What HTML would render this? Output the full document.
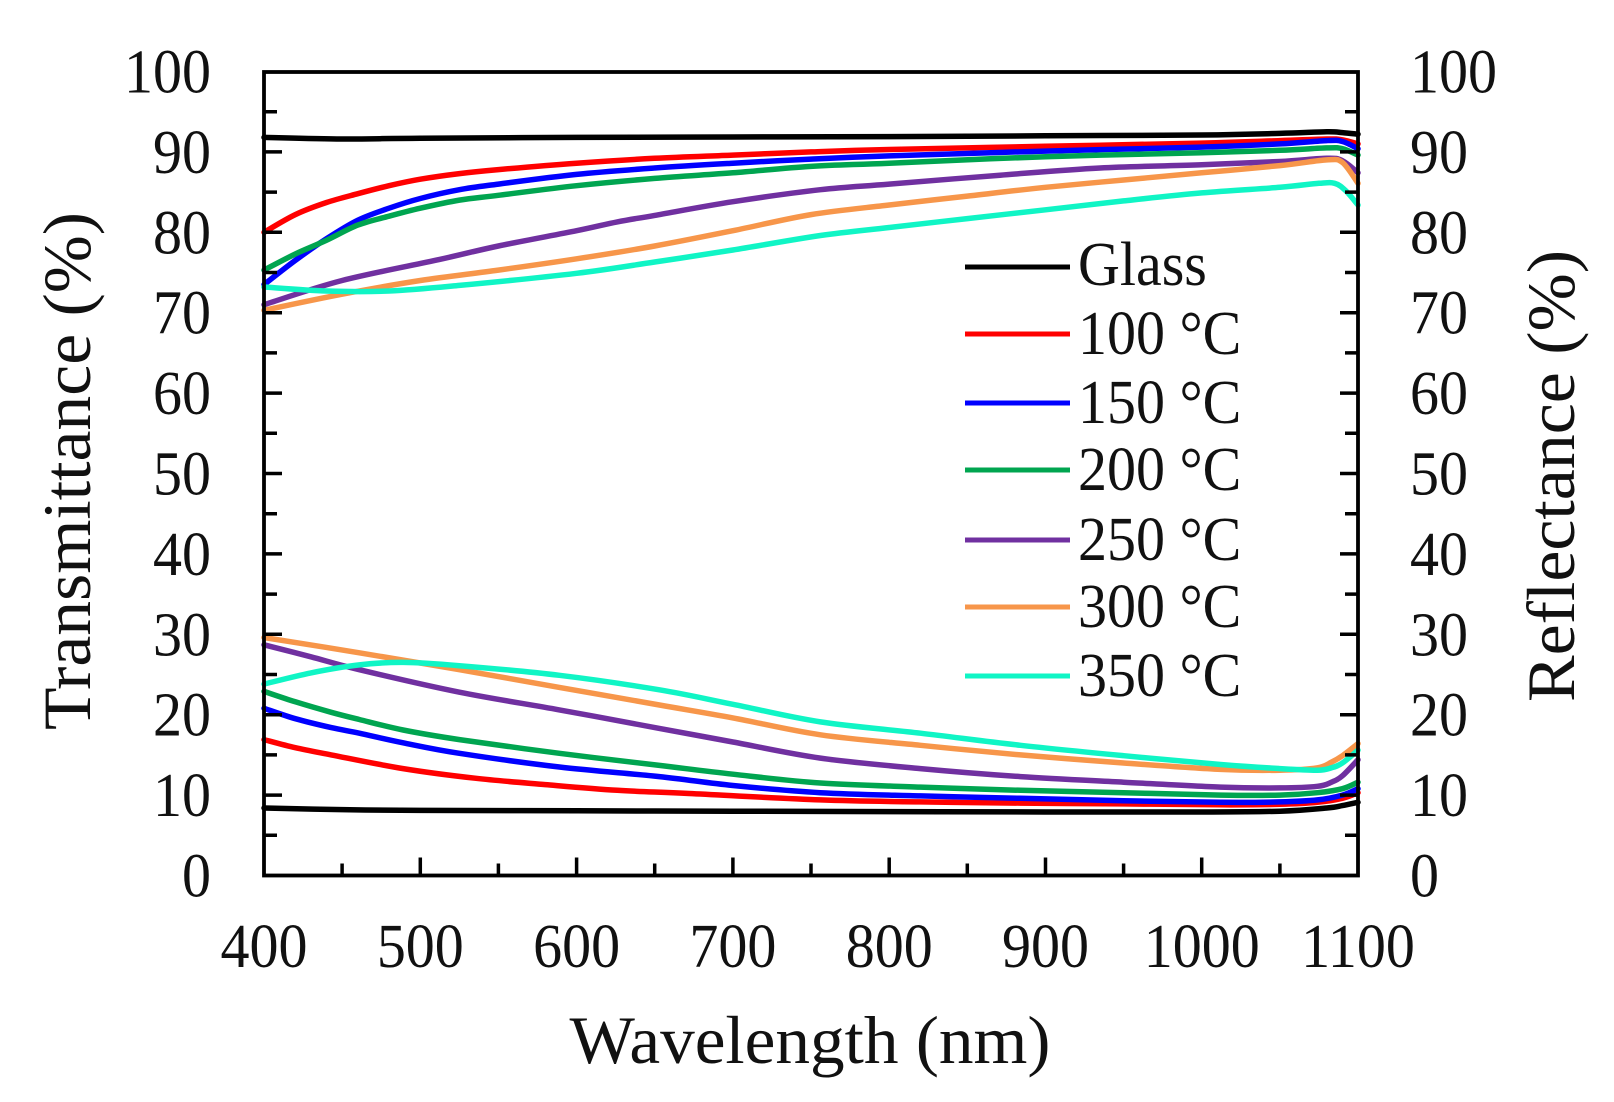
<!DOCTYPE html>
<html><head><meta charset="utf-8"><style>
html,body{margin:0;padding:0;background:#fff;}
svg{display:block;}
text{font-family:"Liberation Serif","Times New Roman",serif;fill:#111;}
</style></head><body>
<svg id="chart" width="1614" height="1102" viewBox="0 0 1614 1102" xmlns="http://www.w3.org/2000/svg">
<rect width="1614" height="1102" fill="#fff"/>
<g id="curves" fill="none" stroke-width="5.5" stroke-linejoin="round" stroke-linecap="round">
<!-- Transmittance -->
<polyline stroke="#000" points="264,137.4 342.1,139.0 420.3,138.2 576.6,137.4 732.9,137.0 889.2,136.6 1045.5,135.8 1201.7,135.0 1279.9,133.4 1326.8,131.8 1342.4,132.6 1358,134.2"/>
<polyline stroke="#ff0000" points="264,232.3 295.3,214.6 326.5,202.5 357.8,193.7 389.0,185.7 420.3,179.2 459.4,173.6 498.4,169.6 576.6,163.2 654.7,158.3 732.9,155.1 811.0,151.9 889.2,149.5 1045.5,146.3 1201.7,143.1 1279.9,140.6 1326.8,139.0 1342.4,139.8 1358,143.9"/>
<polyline stroke="#0000ff" points="264,284.6 295.3,260.4 326.5,238.7 357.8,220.2 389.0,208.2 420.3,198.5 459.4,189.7 498.4,184.1 576.6,174.4 654.7,168.0 732.9,163.2 811.0,159.1 889.2,155.9 1045.5,151.1 1201.7,147.1 1279.9,143.9 1326.8,140.6 1342.4,141.5 1358,148.7"/>
<polyline stroke="#00a550" points="264,270.1 295.3,254.0 326.5,240.3 357.8,225.1 389.0,216.2 420.3,208.2 459.4,200.1 498.4,195.3 576.6,185.7 654.7,178.4 732.9,172.8 811.0,166.4 889.2,163.2 1045.5,156.7 1201.7,152.7 1279.9,150.3 1326.8,147.9 1342.4,148.7 1358,155.1"/>
<polyline stroke="#7030a0" points="264,304.7 342.1,280.5 439.0,259.6 498.4,246.0 576.6,230.7 617.2,221.9 654.7,215.4 732.9,201.7 820.4,189.7 889.2,184.1 1000.1,175.2 1100.1,168.0 1201.7,164.8 1279.9,161.5 1326.8,158.3 1342.4,160.7 1358,172.8"/>
<polyline stroke="#f7964a" points="264,310.3 342.1,294.2 420.3,280.5 498.4,270.1 576.6,258.8 654.7,246.0 732.9,230.7 811.0,214.6 889.2,205.0 967.3,196.1 1045.5,187.3 1123.6,180.0 1201.7,172.8 1279.9,165.6 1326.8,159.9 1342.4,162.4 1358,183.3"/>
<polyline stroke="#10f5c5" points="264,287.0 326.5,291.0 389.0,291.0 459.4,285.4 576.6,273.3 654.7,262.0 732.9,250.0 820.4,235.5 889.2,227.5 967.3,218.6 1045.5,209.8 1123.6,200.9 1201.7,192.9 1279.9,187.3 1319.0,183.3 1334.6,183.3 1345.5,190.5 1358,205.0"/>
<!-- Reflectance -->
<polyline stroke="#000" points="264,808.0 342.1,809.6 420.3,810.4 576.6,810.8 732.9,811.2 889.2,811.6 1045.5,812.0 1201.7,812.0 1279.9,811.2 1326.8,808.0 1342.4,805.6 1358,802.3"/>
<polyline stroke="#ff0000" points="264,739.6 295.3,747.7 331.2,754.9 403.1,768.6 475.0,778.2 545.3,784.6 617.2,790.3 689.1,793.5 820.4,799.9 920.4,801.9 1020.4,803.1 1123.6,803.9 1220.5,804.8 1279.9,804.3 1317.4,802.3 1342.4,798.3 1358,792.7"/>
<polyline stroke="#0000ff" points="264,708.3 295.3,718.7 331.2,727.6 359.3,733.2 403.1,742.8 459.4,753.3 559.4,767.0 659.4,776.6 732.9,785.5 820.4,792.7 920.4,795.9 1020.4,798.3 1123.6,800.7 1220.5,802.3 1279.9,801.9 1317.4,799.9 1342.4,795.1 1358,788.7"/>
<polyline stroke="#00a550" points="264,691.4 295.3,701.8 331.2,712.3 359.3,719.5 403.1,730.0 459.4,739.6 559.4,753.3 659.4,765.4 732.9,774.2 820.4,783.0 920.4,787.1 1020.4,790.3 1123.6,792.7 1220.5,795.1 1279.9,795.1 1317.4,792.7 1342.4,788.7 1358,782.2"/>
<polyline stroke="#7030a0" points="264,644.8 310.9,656.8 359.3,669.7 459.4,692.2 559.4,709.9 659.4,728.4 732.9,742.0 820.4,758.1 920.4,768.6 1020.4,776.6 1123.6,782.2 1220.5,787.1 1279.9,787.9 1317.4,786.3 1331.5,782.2 1342.4,775.8 1358,759.7"/>
<polyline stroke="#f7964a" points="264,637.5 359.3,652.8 459.4,669.7 559.4,687.4 659.4,705.0 732.9,717.9 820.4,734.8 920.4,745.3 1020.4,754.9 1123.6,763.0 1220.5,769.4 1279.9,770.2 1317.4,767.8 1331.5,762.1 1342.4,755.7 1358,743.6"/>
<polyline stroke="#10f5c5" points="264,684.1 310.9,672.9 359.3,664.9 403.1,662.4 459.4,665.7 559.4,675.3 659.4,689.8 732.9,704.3 820.4,721.9 920.4,733.2 1020.4,745.3 1123.6,755.7 1220.5,764.5 1279.9,768.6 1317.4,770.2 1331.5,767.8 1342.4,763.0 1358,750.1"/>
</g>

<!-- frame -->
<rect x="264" y="72" width="1094" height="803.5" fill="none" stroke="#000" stroke-width="3.8"/>

<!-- ticks -->
<g stroke="#000" stroke-width="3.5">
<path d="M264 795.1h18M264 714.7h18M264 634.3h18M264 553.9h18M264 473.5h18M264 393.1h18M264 312.7h18M264 232.3h18M264 151.9h18"/>
<path d="M264 835.3h13M264 754.9h13M264 674.5h13M264 594.1h13M264 513.7h13M264 433.3h13M264 352.9h13M264 272.5h13M264 192.1h13M264 111.7h13"/>
<path d="M1358 795.1h-18M1358 714.7h-18M1358 634.3h-18M1358 553.9h-18M1358 473.5h-18M1358 393.1h-18M1358 312.7h-18M1358 232.3h-18M1358 151.9h-18"/>
<path d="M1358 835.3h-13M1358 754.9h-13M1358 674.5h-13M1358 594.1h-13M1358 513.7h-13M1358 433.3h-13M1358 352.9h-13M1358 272.5h-13M1358 192.1h-13M1358 111.7h-13"/>
<path d="M420.3 875.5v-18M576.6 875.5v-18M732.9 875.5v-18M889.2 875.5v-18M1045.5 875.5v-18M1201.7 875.5v-18"/>
<path d="M342.1 875.5v-12M498.4 875.5v-12M654.7 875.5v-12M811.0 875.5v-12M967.3 875.5v-12M1123.6 875.5v-12M1279.9 875.5v-12"/>
</g>

<!-- left tick labels -->
<g font-size="58" text-anchor="end">
<text transform="translate(211,92.5) scale(1,1.07)">100</text>
<text transform="translate(211,172.9) scale(1,1.07)">90</text>
<text transform="translate(211,253.3) scale(1,1.07)">80</text>
<text transform="translate(211,333.7) scale(1,1.07)">70</text>
<text transform="translate(211,414.1) scale(1,1.07)">60</text>
<text transform="translate(211,494.5) scale(1,1.07)">50</text>
<text transform="translate(211,574.9) scale(1,1.07)">40</text>
<text transform="translate(211,655.3) scale(1,1.07)">30</text>
<text transform="translate(211,735.7) scale(1,1.07)">20</text>
<text transform="translate(211,816.1) scale(1,1.07)">10</text>
<text transform="translate(211,896.5) scale(1,1.07)">0</text>
</g>
<!-- right tick labels -->
<g font-size="58" text-anchor="start">
<text transform="translate(1410,92.5) scale(1,1.07)">100</text>
<text transform="translate(1410,172.9) scale(1,1.07)">90</text>
<text transform="translate(1410,253.3) scale(1,1.07)">80</text>
<text transform="translate(1410,333.7) scale(1,1.07)">70</text>
<text transform="translate(1410,414.1) scale(1,1.07)">60</text>
<text transform="translate(1410,494.5) scale(1,1.07)">50</text>
<text transform="translate(1410,574.9) scale(1,1.07)">40</text>
<text transform="translate(1410,655.3) scale(1,1.07)">30</text>
<text transform="translate(1410,735.7) scale(1,1.07)">20</text>
<text transform="translate(1410,816.1) scale(1,1.07)">10</text>
<text transform="translate(1410,896.5) scale(1,1.07)">0</text>
</g>
<!-- bottom tick labels -->
<g font-size="58" text-anchor="middle">
<text transform="translate(264,967) scale(1,1.07)">400</text>
<text transform="translate(420.3,967) scale(1,1.07)">500</text>
<text transform="translate(576.6,967) scale(1,1.07)">600</text>
<text transform="translate(732.9,967) scale(1,1.07)">700</text>
<text transform="translate(889.2,967) scale(1,1.07)">800</text>
<text transform="translate(1045.5,967) scale(1,1.07)">900</text>
<text transform="translate(1201.7,967) scale(1,1.07)">1000</text>
<text transform="translate(1358,967) scale(1,1.07)">1100</text>
</g>

<!-- axis titles -->
<text x="810" y="1063" font-size="68" text-anchor="middle" textLength="481" lengthAdjust="spacingAndGlyphs">Wavelength (nm)</text>
<text transform="translate(90,471) rotate(-90)" font-size="68" text-anchor="middle" textLength="518" lengthAdjust="spacingAndGlyphs">Transmittance  (%)</text>
<text transform="translate(1574,476) rotate(-90)" font-size="68" text-anchor="middle" textLength="452" lengthAdjust="spacingAndGlyphs">Reflectance (%)</text>

<!-- legend -->
<g stroke-width="5" fill="none">
<path stroke="#000" d="M965 267H1070"/>
<path stroke="#ff0000" d="M965 334H1070"/>
<path stroke="#0000ff" d="M965 403H1070"/>
<path stroke="#00a550" d="M965 470H1070"/>
<path stroke="#7030a0" d="M965 540H1070"/>
<path stroke="#f7964a" d="M965 607H1070"/>
<path stroke="#10f5c5" d="M965 676H1070"/>
</g>
<g font-size="58">
<text transform="translate(1078,285) scale(1,1.07)">Glass</text>
<text transform="translate(1078,354) scale(1,1.07)">100 °C</text>
<text transform="translate(1078,423) scale(1,1.07)">150 °C</text>
<text transform="translate(1078,490) scale(1,1.07)">200 °C</text>
<text transform="translate(1078,560) scale(1,1.07)">250 °C</text>
<text transform="translate(1078,627) scale(1,1.07)">300 °C</text>
<text transform="translate(1078,696) scale(1,1.07)">350 °C</text>
</g>
</svg>
<script>
(function(){
  var NS="http://www.w3.org/2000/svg";
  var g=document.getElementById("curves");
  if(!g) return;
  var pls=g.querySelectorAll("polyline");
  for(var k=0;k<pls.length;k++){
    var pl=pls[k];
    var raw=pl.getAttribute("points").trim().split(/\s+/);
    var p=[];
    for(var i=0;i<raw.length;i++){var c=raw[i].split(",");p.push([parseFloat(c[0]),parseFloat(c[1])]);}
    var d="M"+p[0][0]+" "+p[0][1];
    for(var i=0;i<p.length-1;i++){
      var p0=p[i>0?i-1:i],p1=p[i],p2=p[i+1],p3=p[i+2<p.length?i+2:i+1];
      var c1x=p1[0]+(p2[0]-p0[0])/6,c1y=p1[1]+(p2[1]-p0[1])/6;
      var c2x=p2[0]-(p3[0]-p1[0])/6,c2y=p2[1]-(p3[1]-p1[1])/6;
      d+=" C"+c1x.toFixed(2)+" "+c1y.toFixed(2)+" "+c2x.toFixed(2)+" "+c2y.toFixed(2)+" "+p2[0]+" "+p2[1];
    }
    var path=document.createElementNS(NS,"path");
    path.setAttribute("d",d);
    path.setAttribute("stroke",pl.getAttribute("stroke"));
    g.replaceChild(path,pl);
  }
})();
</script>
</body></html>
